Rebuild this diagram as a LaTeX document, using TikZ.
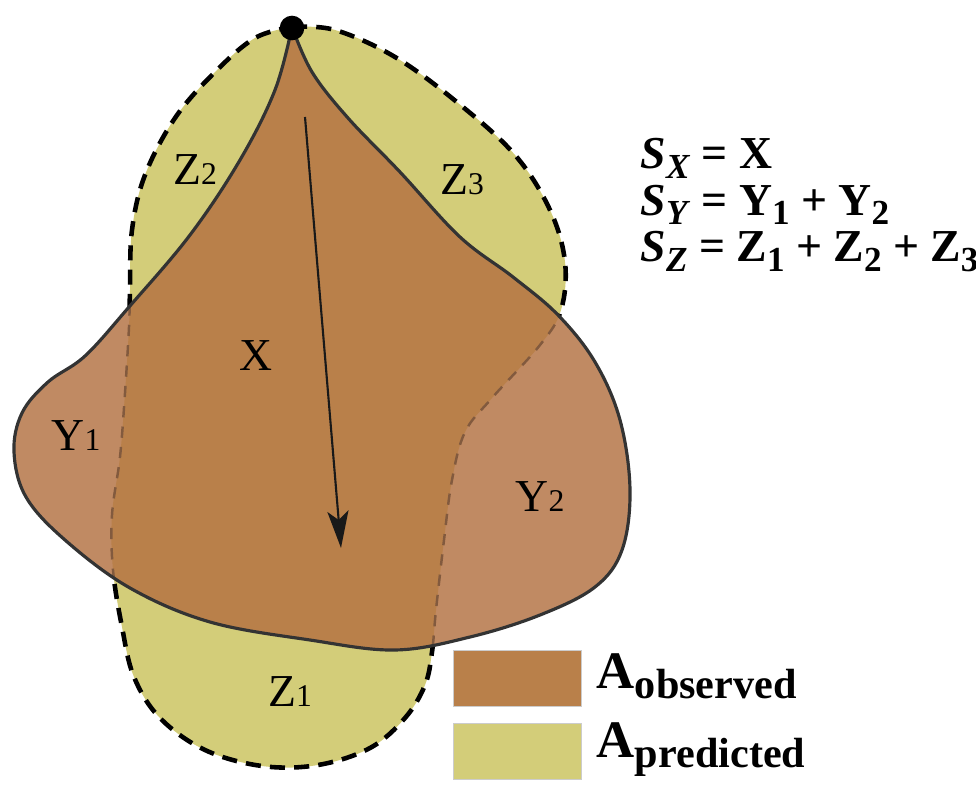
\documentclass[tikz,border=0pt]{standalone}
\usepackage{fontspec}
\setmainfont{Liberation Serif}
\usetikzlibrary{arrows.meta}
\definecolor{ObsBrown}{RGB}{185,128,74}
\definecolor{ObsLight}{RGB}{192,138,99}
\definecolor{PredYellow}{RGB}{211,205,121}
\definecolor{EdgeBrown}{RGB}{130,90,62}
\newcommand{\smalldigit}[1]{{\fontsize{9}{9}\selectfont #1}}
\newcommand{\formsub}[1]{\raisebox{-0.45ex}{\fontsize{10}{10}\selectfont\bfseries #1}}
\newcommand{\legsub}[1]{\raisebox{-2.8pt}{\fontsize{12}{12}\selectfont\bfseries #1}}
% outline of the predicted area (Z2, X, Z3, Z1)
\newcommand{\predpath}{plot[smooth,tension=0.6] coordinates {(292,27) (335,30)
  (395,57) (458,103) (515,155) (550,210) (565,262) (561,310) (540,345)
  (492,398) (465,432) (452,480) (444,540) (436,610) (432,652) (425,685)
  (405,718) (370,748) (318,765) (262,766) (205,750) (160,718) (134,677)
  (122,627) (113,570) (112,515) (120,457) (125,393) (129,327) (130,290)
  (132,230) (145,175) (175,118) (215,72) (255,38) (292,27)} -- cycle}
% outline of the observed area (X, Y1, Y2)
\newcommand{\obspath}{plot[smooth,tension=0.6] coordinates {(292,27) (312,72)
  (348,118) (400,172) (460,237) (513,277) (558,315) (595,362) (620,420)
  (630,490) (622,550) (595,587) (540,615) (470,637) (395,650) (310,640)
  (210,622) (130,588) (65,540) (26,497) (14,452) (22,413) (48,382)
  (85,356) (129,307) (190,235) (240,160) (275,90) (292,27)} -- cycle}
\tikzset{
  region/.style={font=\fontsize{13}{13}\selectfont},
  formula/.style={font=\fontsize{13}{13.2}\selectfont\bfseries,align=left,inner sep=0pt},
  legendtext/.style={font=\fontsize{15}{15}\selectfont\bfseries,anchor=west,inner sep=0pt},
  obsline/.style={line width=0.9pt,black!80},
  predline/.style={line width=1.3pt,black,dash pattern=on 4.3pt off 2.6pt},
  predinner/.style={line width=0.7pt,EdgeBrown,dash pattern=on 3.2pt off 2.6pt},
  flowarrow/.style={-{Stealth[length=10.5pt,width=6pt,inset=2.5pt]},line width=0.6pt,black!90},
  legendbox/.style={draw=black!20,line width=0.3pt,minimum width=1.28cm,
    minimum height=0.56cm,inner sep=0pt}
}
\begin{document}
\begin{tikzpicture}[x=0.01cm,y=-0.01cm]
  \useasboundingbox (0,0) rectangle (976,785);

  % predicted area with its dashed edge
  \fill[PredYellow] \predpath;
  \draw[predline] \predpath;

  % observed area on top, darker where both overlap
  \begin{scope}
    \clip \obspath;
    \fill[ObsLight] \obspath;
    \begin{scope}
      \clip \predpath;
      \fill[ObsBrown] \obspath;
    \end{scope}
    \draw[predinner] \predpath;
  \end{scope}
  \draw[obsline] \obspath;

  % outlet and flow direction
  \fill[black] (292,28) circle[radius=3.5pt];
  \coordinate (flowstart) at (305,117);
  \coordinate (flowend) at (341,548);
  \draw[flowarrow] (flowstart) -- (flowend);

  % region labels
  \node[region] (labZ2) at (195,170) {Z\smalldigit{2}};
  \node[region] (labZ3) at (462,180) {Z\smalldigit{3}};
  \node[region] (labX) at (256,356) {X};
  \node[region] (labY1) at (76,436) {Y\smalldigit{1}};
  \node[region] (labY2) at (540,497) {Y\smalldigit{2}};
  \node[region] (labZ1) at (290,692) {Z\smalldigit{1}};

  % scores
  \node[formula,anchor=north west] (formulas) at (640,138)
    {\textit{S}\formsub{\textit{X}} = X\\
     \textit{S}\formsub{\textit{Y}} = Y\formsub{1} + Y\formsub{2}\\
     \textit{S}\formsub{\textit{Z}} = Z\formsub{1} + Z\formsub{2} + Z\formsub{3}};

  % legend
  \node[legendbox,fill=ObsBrown,anchor=north west] (legobs) at (453,650) {};
  \node[legendbox,fill=PredYellow,anchor=north west] (legpred) at (453,723) {};
  \node[legendtext] (legobstext) at ([xshift=0.14cm,yshift=0.02cm]legobs.east)
    {A\legsub{observed}};
  \node[legendtext] (legpredtext) at ([xshift=0.14cm,yshift=0.02cm]legpred.east)
    {A\legsub{predicted}};
\end{tikzpicture}
\end{document}
